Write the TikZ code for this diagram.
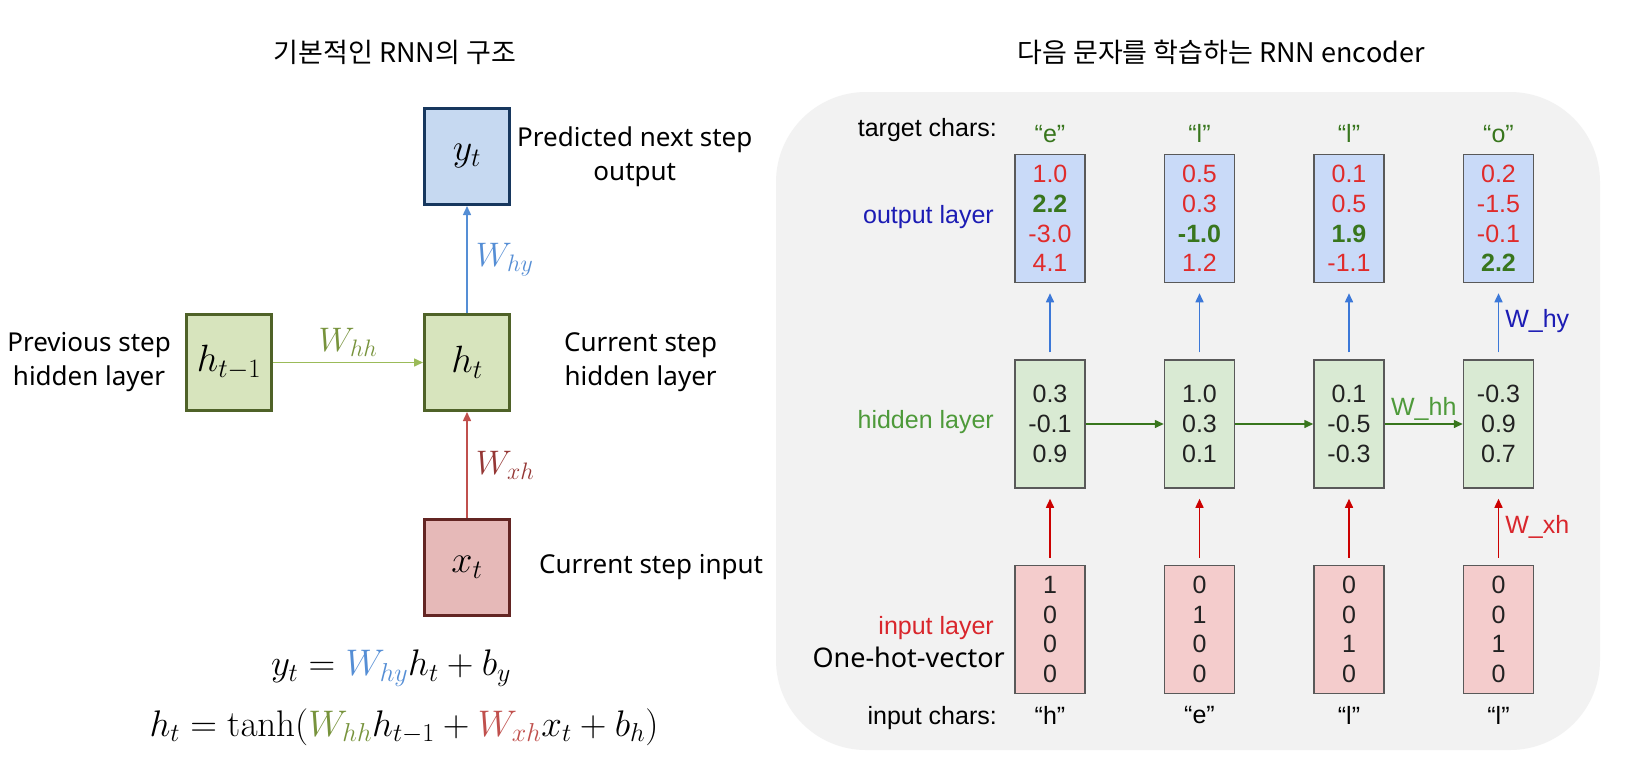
\RequirePackage{fix-cm}
\documentclass[tikz,border=0pt]{standalone}
\usepackage[no-math]{fontspec}
\setmainfont{Noto Sans}
\newfontfamily\kofont{Noto Sans CJK KR}
\newfontfamily\slidefont{Liberation Sans}
\usetikzlibrary{arrows.meta, positioning}

\definecolor{ybluefill}{HTML}{C6D9F1}
\definecolor{ybluedraw}{HTML}{17375E}
\definecolor{hgreenfill}{HTML}{D7E4BD}
\definecolor{hgreendraw}{HTML}{4F6228}
\definecolor{xredfill}{HTML}{E6B9B8}
\definecolor{xreddraw}{HTML}{632523}
\definecolor{whyblue}{HTML}{558ED5}
\definecolor{whhgreen}{HTML}{9BBB59}
\definecolor{whhlabel}{HTML}{77933C}
\definecolor{wxhred}{HTML}{C0504D}
\definecolor{wxhlabel}{HTML}{953735}
\definecolor{panelgray}{HTML}{F2F2F2}
\definecolor{outfill}{HTML}{C9DAF8}
\definecolor{hidfill}{HTML}{D9EAD3}
\definecolor{infill}{HTML}{F4CCCC}
\definecolor{boxgray}{HTML}{595959}
\definecolor{numred}{HTML}{E02B2B}
\definecolor{numgreen}{HTML}{38761D}
\definecolor{labblue}{HTML}{1C1CB4}
\definecolor{labgreen}{HTML}{4E9A3A}
\definecolor{labred}{HTML}{D9262C}
\definecolor{linkblue}{HTML}{3C78D8}
\definecolor{linkgreen}{HTML}{38761D}
\definecolor{linkred}{HTML}{CC0000}
\definecolor{numdark}{HTML}{222222}

\newcommand{\rv}[1]{\textcolor{numred}{#1}}
\newcommand{\gv}[1]{\textcolor{numgreen}{\bfseries #1}}

\begin{document}
\begin{tikzpicture}[
    x=1pt, y=-1pt,
    kotitle/.style={font=\kofont\fontsize{27}{30}\selectfont, inner sep=0pt},
    cell/.style={rectangle, draw, line width=3pt, minimum width=85pt, minimum height=96pt, inner sep=0pt, font=\fontsize{38}{42}\selectfont},
    ycell/.style={cell, fill=ybluefill, draw=ybluedraw},
    hcell/.style={cell, fill=hgreenfill, draw=hgreendraw},
    xcell/.style={cell, fill=xredfill, draw=xreddraw},
    note/.style={font=\fontsize{26}{34}\selectfont, align=center, inner sep=0pt},
    wlabel/.style={font=\fontsize{34}{38}\selectfont, inner sep=0pt},
    eqn/.style={font=\fontsize{37}{42}\selectfont, inner sep=0pt},
    flow/.style={-{Triangle[length=9pt, width=8pt]}, line width=1.5pt},
    vec/.style={rectangle, draw=boxgray, line width=1.5pt, minimum width=70pt, minimum height=128pt, inner sep=0pt, align=center, text=numdark, font=\slidefont\fontsize{25}{29.7}\selectfont},
    outvec/.style={vec, fill=outfill},
    hidvec/.style={vec, fill=hidfill},
    invec/.style={vec, fill=infill},
    rowlabel/.style={font=\slidefont\fontsize{25}{30}\selectfont, anchor=east, inner sep=0pt},
    charlabel/.style={font=\slidefont\fontsize{25}{30}\selectfont, inner sep=0pt},
    link/.style={-{Triangle[length=9pt, width=8pt]}, line width=1.5pt}
]
\useasboundingbox (0,0) rectangle (1632,758);
\fill[white] (0,0) rectangle (1632,758);

% ---- basic RNN cell ----
\node[kotitle] (lefttitle) at (395,52) {기본적인 RNN의 구조};

\node[hcell] (hcur) at (467,362.5) {$h_t$};
\node[hcell, left=150pt of hcur] (hprev) {$h_{t-1}$};
\node[ycell, above=107pt of hcur] (ybox) {$y_t$};
\node[xcell, below=106pt of hcur] (xbox) {$x_t$};

\node[note, right=6pt of ybox] (ynote) {Predicted next step\\output};
\node[note, left=14pt of hprev] (hprevnote) {Previous step\\hidden layer};
\node[note, right=53pt of hcur] (hcurnote) {Current step\\hidden layer};
\node[note, right=28pt of xbox] (xnote) {Current step input};

\draw[flow, whyblue] (hcur) -- node[wlabel, right=8pt, text=whyblue] {$W_{hy}$} (ybox);
\draw[flow, whhgreen] (hprev) -- node[wlabel, above=5pt, text=whhlabel] {$W_{hh}$} (hcur);
\draw[flow, wxhred] (xbox) -- node[wlabel, right=8pt, text=wxhlabel] {$W_{xh}$} (hcur);

% equations
\node[eqn] (eqy) at (391,668) {$y_t = \textcolor{whyblue}{W_{hy}} h_t + b_y$};
\node[eqn] (eqh) at (404,727) {$h_t = \tanh(\textcolor{whhlabel}{W_{hh}} h_{t-1} + \textcolor{wxhred}{W_{xh}} x_t + b_h)$};

% ---- char-level encoder ----
\fill[panelgray, rounded corners=90pt] (776,92) rectangle (1600,750);
\node[kotitle] (righttitle) at (1221,52) {다음 문자를 학습하는 RNN encoder};

\node[outvec] (out1) at (1050,218.5) {\rv{1.0}\\\gv{2.2}\\\rv{-3.0}\\\rv{4.1}};
\node[outvec, right=78pt of out1] (out2) {\rv{0.5}\\\rv{0.3}\\\gv{-1.0}\\\rv{1.2}};
\node[outvec, right=78pt of out2] (out3) {\rv{0.1}\\\rv{0.5}\\\gv{1.9}\\\rv{-1.1}};
\node[outvec, right=78pt of out3] (out4) {\rv{0.2}\\\rv{-1.5}\\\rv{-0.1}\\\gv{2.2}};

\node[hidvec, below=76pt of out1] (hid1) {0.3\\-0.1\\0.9};
\node[hidvec, below=76pt of out2] (hid2) {1.0\\0.3\\0.1};
\node[hidvec, below=76pt of out3] (hid3) {0.1\\-0.5\\-0.3};
\node[hidvec, below=76pt of out4] (hid4) {-0.3\\0.9\\0.7};

\node[invec, below=76pt of hid1] (in1) {1\\0\\0\\0};
\node[invec, below=76pt of hid2] (in2) {0\\1\\0\\0};
\node[invec, below=76pt of hid3] (in3) {0\\0\\1\\0};
\node[invec, below=76pt of hid4] (in4) {0\\0\\1\\0};

% row labels
\node[rowlabel] (targetlab) at (997,130) {target chars:};
\node[rowlabel, text=labblue] (outlab) at (994,217) {output layer};
\node[rowlabel, text=labgreen] (hidlab) at (994,422) {hidden layer};
\node[rowlabel, text=labred] (inlab) at (994,628) {input layer};
\node[rowlabel, font=\fontsize{27}{30}\selectfont] (onehotlab) at (1005,657) {One-hot-vector};
\node[rowlabel] (inputlab) at (997,718) {input chars:};

\node[charlabel, text=numgreen, above=11pt of out1] (t1) {“e”};
\node[charlabel, text=numgreen, above=11pt of out2] (t2) {“l”};
\node[charlabel, text=numgreen, above=11pt of out3] (t3) {“l”};
\node[charlabel, text=numgreen, above=11pt of out4] (t4) {“o”};
\node[charlabel, below=12pt of in1] (c1) {“h”};
\node[charlabel, below=12pt of in2] (c2) {“e”};
\node[charlabel, below=12pt of in3] (c3) {“l”};
\node[charlabel, below=12pt of in4] (c4) {“l”};

% connections
\draw[link, linkblue, shorten <=7pt, shorten >=10pt] (hid1) -- (out1);
\draw[link, linkblue, shorten <=7pt, shorten >=10pt] (hid2) -- (out2);
\draw[link, linkblue, shorten <=7pt, shorten >=10pt] (hid3) -- (out3);
\draw[link, linkblue, shorten <=7pt, shorten >=10pt] (hid4) -- node[charlabel, right=6pt, text=labblue] {W\_hy} (out4);

\draw[link, linkred, shorten <=7pt, shorten >=10pt] (in1) -- (hid1);
\draw[link, linkred, shorten <=7pt, shorten >=10pt] (in2) -- (hid2);
\draw[link, linkred, shorten <=7pt, shorten >=10pt] (in3) -- (hid3);
\draw[link, linkred, shorten <=7pt, shorten >=10pt] (in4) -- node[charlabel, right=6pt, text=labred] {W\_xh} (hid4);

\draw[link, linkgreen] (hid1) -- (hid2);
\draw[link, linkgreen] (hid2) -- (hid3);
\draw[link, linkgreen] (hid3) -- node[charlabel, above=3pt, text=labgreen] {W\_hh} (hid4);

\end{tikzpicture}
\end{document}
